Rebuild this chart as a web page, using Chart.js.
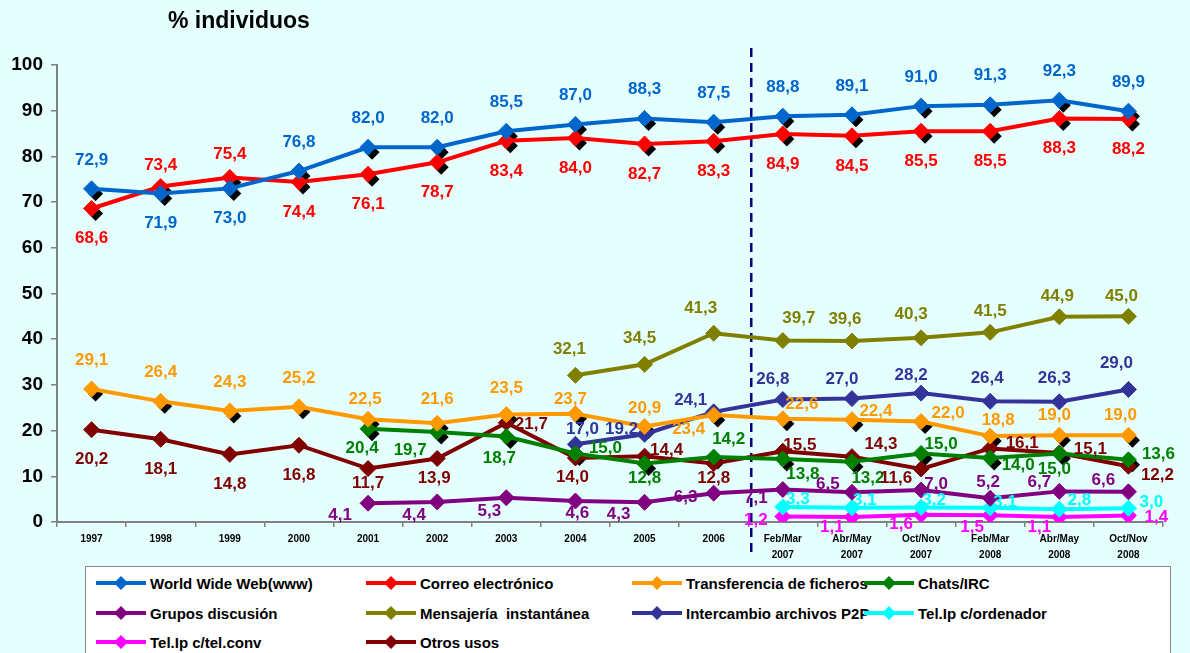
<!DOCTYPE html>
<html>
<head>
<meta charset="utf-8">
<script src="https://cdn.jsdelivr.net/npm/chart.js@4.4.1/dist/chart.umd.min.js"></script>
<style>
html, body { margin: 0; padding: 0; background: #E5FFFF; width: 1190px; height: 653px; overflow: hidden; font-family: "Liberation Sans", Arial, sans-serif; }
#wrap { position: relative; width: 1190px; height: 562px; }
#legend { position: absolute; left: 85px; top: 566px; width: 1086px; height: 100px; background: #fff; border: 1px solid #888; box-sizing: border-box; }
.item { position: absolute; height: 20px; display: flex; align-items: center; font-weight: bold; font-size: 15px; white-space: pre; color: #000; }
.item svg { margin-right: 3px; }
</style>
</head>
<body>
<div id="wrap"><canvas id="chart"></canvas></div>
<div id="legend"></div>
<script>
var categories = ['1997', '1998', '1999', '2000', '2001', '2002', '2003', '2004', '2005', '2006',
    ['Feb/Mar', '2007'], ['Abr/May', '2007'], ['Oct/Nov', '2007'],
    ['Feb/Mar', '2008'], ['Abr/May', '2008'], ['Oct/Nov', '2008']];

var www = [72.9, 71.9, 73.0, 76.8, 82.0, 82.0, 85.5, 87.0, 88.3, 87.5, 88.8, 89.1, 91.0, 91.3, 92.3, 89.9];
var correo = [68.6, 73.4, 75.4, 74.4, 76.1, 78.7, 83.4, 84.0, 82.7, 83.3, 84.9, 84.5, 85.5, 85.5, 88.3, 88.2];
var transferencia = [29.1, 26.4, 24.3, 25.2, 22.5, 21.6, 23.5, 23.7, 20.9, 23.4, 22.6, 22.4, 22.0, 18.8, 19.0, 19.0];
var chats = [null, null, null, null, 20.4, 19.7, 18.7, 15.0, 12.8, 14.2, 13.8, 13.2, 15.0, 14.0, 15.0, 13.6];
var grupos = [null, null, null, null, 4.1, 4.4, 5.3, 4.6, 4.3, 6.3, 7.1, 6.5, 7.0, 5.2, 6.7, 6.6];
var mensajeria = [null, null, null, null, null, null, null, 32.1, 34.5, 41.3, 39.7, 39.6, 40.3, 41.5, 44.9, 45.0];
var p2p = [null, null, null, null, null, null, null, 17.0, 19.2, 24.1, 26.8, 27.0, 28.2, 26.4, 26.3, 29.0];
var telOrdenador = [null, null, null, null, null, null, null, null, null, null, 3.3, 3.1, 3.2, 3.1, 2.8, 3.0];
var telConv = [null, null, null, null, null, null, null, null, null, null, 1.2, 1.1, 1.6, 1.5, 1.1, 1.4];
var otros = [20.2, 18.1, 14.8, 16.8, 11.7, 13.9, 21.7, 14.0, 14.4, 12.8, 15.5, 14.3, 11.6, 16.1, 15.1, 12.2];

// where each value label sits, relative to its point [dx, dy]
var A = [0, -29], B = [0, 30];
var labelOffsets = {
    www: [A, B, B, A, A, A, A, A, A, A, A, A, A, A, A, A],
    correo: [B, [0, -21], [0, -23], B, B, B, B, B, B, B, B, B, B, B, B, B],
    transferencia: [A, A, A, A, [-3, -20], [0, -24], [0, -26], [-5, -14], [0, -18], [-25, 14],
        [19, -14], [24, -8], [27, -8], [8, -16], [-5, -20], [-8, -20]],
    chats: [null, null, null, null, [-6, 20], [-27, 18], [-7, 22], [30, -5], [0, 15], [15, -18],
        [20, 15], [16, 17], [20, -9], [28, 7], [-5, 16], [30, -6]],
    grupos: [null, null, null, null, [-28, 12], [-23, 13], [-17, 14], [2, 12], [-26, 12], [-28, 4],
        [-27, 9], [-24, -8], [15, -6], [-2, -16], [-20, -9], [-25, -12]],
    mensajeria: [null, null, null, null, null, null, null, [-6, -26], [-5, -26], [-13, -25],
        [16, -22], [-7, -22], [-10, -24], [0, -21], [-2, -20], [-7, -20]],
    p2p: [null, null, null, null, null, null, null, [7, -15], [-23, -5], [-23, -12],
        [-10, -20], [-10, -19], [-10, -18], [-3, -23], [-5, -23], [-12, -26]],
    telOrdenador: [null, null, null, null, null, null, null, null, null, null,
        [15, -8], [13, -8], [13, -7], [15, -6], [20, -9], [23, -6]],
    telConv: [null, null, null, null, null, null, null, null, null, null,
        [-27, 4], [-20, 10], [-20, 10], [-18, 12], [-20, 10], [28, 2]],
    otros: [B, B, B, B, [0, 15], [-3, 20], [25, 1], [-3, 19], [22, -6], [0, 15],
        [17, -6], [29, -12], [-25, 9], [32, -5], [31, -4], [29, 9]]
};

function series(label, data, color, key, shadow) {
    return {
        label: label,
        data: data,
        borderColor: color,
        backgroundColor: color,
        pointBackgroundColor: color,
        pointBorderColor: color,
        borderWidth: 4,
        pointStyle: 'rectRot',
        pointRadius: 8,
        pointHoverRadius: 8,
        pointBorderWidth: 1,
        tension: 0,
        fill: false,
        offsetsKey: key,
        shadow: shadow
    };
}

var shadowPlugin = {
    id: 'shadows',
    beforeDatasetsDraw: function (chart) {
        var ctx = chart.ctx;
        // dashed separator between yearly and survey-wave data
        var xs = chart.scales.x;
        var xMid = (xs.getPixelForValue(9) + xs.getPixelForValue(10)) / 2 + 3;
        ctx.save();
        ctx.strokeStyle = '#000080';
        ctx.lineWidth = 2.5;
        ctx.setLineDash([9, 6]);
        ctx.beginPath();
        ctx.moveTo(xMid, chart.chartArea.top - 17);
        ctx.lineTo(xMid, chart.chartArea.bottom + 30);
        ctx.stroke();
        ctx.restore();

        chart.data.datasets.forEach(function (ds, i) {
            if (!ds.shadow) return;
            var meta = chart.getDatasetMeta(i);
            ctx.save();
            ctx.fillStyle = '#000';
            meta.data.forEach(function (pt, j) {
                if (ds.data[j] == null) return;
                var x = pt.x + 4, y = pt.y + 5, r = 7.5;
                ctx.beginPath();
                ctx.moveTo(x, y - r);
                ctx.lineTo(x + r, y);
                ctx.lineTo(x, y + r);
                ctx.lineTo(x - r, y);
                ctx.closePath();
                ctx.fill();
            });
            ctx.restore();
        });
    }
};

var labelPlugin = {
    id: 'valueLabels',
    afterDatasetsDraw: function (chart) {
        var ctx = chart.ctx;
        ctx.save();
        ctx.font = 'bold 17px "Liberation Sans", Arial, sans-serif';
        ctx.textAlign = 'center';
        ctx.textBaseline = 'middle';
        chart.data.datasets.forEach(function (ds, i) {
            var meta = chart.getDatasetMeta(i);
            var offs = labelOffsets[ds.offsetsKey];
            ctx.fillStyle = ds.borderColor;
            meta.data.forEach(function (pt, j) {
                var v = ds.data[j];
                if (v == null) return;
                var o = offs[j] || A;
                ctx.fillText(v.toFixed(1).replace('.', ','), pt.x + o[0], pt.y + o[1]);
            });
        });
        ctx.restore();
    },
    afterDraw: function (chart) {
        var ctx = chart.ctx;
        ctx.save();
        ctx.font = 'bold 23px "Liberation Sans", Arial, sans-serif';
        ctx.fillStyle = '#000';
        ctx.textBaseline = 'middle';
        ctx.fillText('% individuos', 168, 22);
        ctx.restore();
    }
};

var htmlLegend = {
    id: 'htmlLegend',
    afterUpdate: function (chart) {
        var box = document.getElementById('legend');
        box.innerHTML = '';
        var cols = [9, 279, 545, 777];
        var rows = [6, 36, 65];
        chart.data.datasets.forEach(function (ds, i) {
            var item = document.createElement('div');
            item.className = 'item';
            item.style.left = cols[i % 4] + 'px';
            item.style.top = rows[Math.floor(i / 4)] + 'px';
            var c = ds.borderColor;
            item.innerHTML = '<svg width="52" height="18"><line x1="1" y1="9" x2="51" y2="9" stroke="' + c +
                '" stroke-width="4"/><polygon points="26,2 33,9 26,16 19,9" fill="' + c + '"/></svg>';
            item.appendChild(document.createTextNode(ds.label));
            box.appendChild(item);
        });
    }
};

var ctx = document.getElementById('chart');
new Chart(ctx, {
    type: 'line',
    data: {
        labels: categories,
        datasets: [
            series('World Wide Web(www)', www, '#0066CC', 'www', true),
            series('Correo electrónico', correo, '#FF0000', 'correo', true),
            series('Transferencia de ficheros', transferencia, '#FF9900', 'transferencia', true),
            series('Chats/IRC', chats, '#008000', 'chats', true),
            series('Grupos discusión', grupos, '#800080', 'grupos', false),
            series('Mensajería  instantánea', mensajeria, '#808000', 'mensajeria', false),
            series('Intercambio archivos P2P', p2p, '#333399', 'p2p', false),
            series('Tel.Ip c/ordenador', telOrdenador, '#00FFFF', 'telOrdenador', false),
            series('Tel.Ip c/tel.conv', telConv, '#FF00FF', 'telConv', false),
            series('Otros usos', otros, '#800000', 'otros', false)
        ]
    },
    options: {
        responsive: true,
        maintainAspectRatio: false,
        animation: false,
        events: [],
        layout: {
            padding: { left: 0, top: 65, right: 27, bottom: 0 }
        },
        plugins: {
            legend: { display: false },
            tooltip: { enabled: false },
            title: { display: false }
        },
        scales: {
            x: {
                offset: true,
                afterFit: function (scale) { scale.height = 40; },
                grid: {
                    offset: true,
                    drawOnChartArea: false,
                    color: '#808080',
                    tickLength: 5,
                    lineWidth: 1.5
                },
                border: { color: '#808080', width: 2 },
                ticks: {
                    autoSkip: false,
                    maxRotation: 0,
                    padding: 4,
                    color: '#000',
                    font: { family: '"Liberation Sans", Arial, sans-serif', size: 10, weight: 'bold', lineHeight: 1.6 }
                }
            },
            y: {
                min: 0,
                max: 100,
                afterFit: function (scale) { scale.width = 57; },
                grid: {
                    drawOnChartArea: false,
                    color: '#808080',
                    tickLength: 6,
                    lineWidth: 1.5
                },
                border: { color: '#808080', width: 2 },
                ticks: {
                    stepSize: 10,
                    padding: 8,
                    color: '#000',
                    font: { family: '"Liberation Sans", Arial, sans-serif', size: 19, weight: 'bold' }
                }
            }
        }
    },
    plugins: [shadowPlugin, labelPlugin, htmlLegend]
});
</script>
</body>
</html>
